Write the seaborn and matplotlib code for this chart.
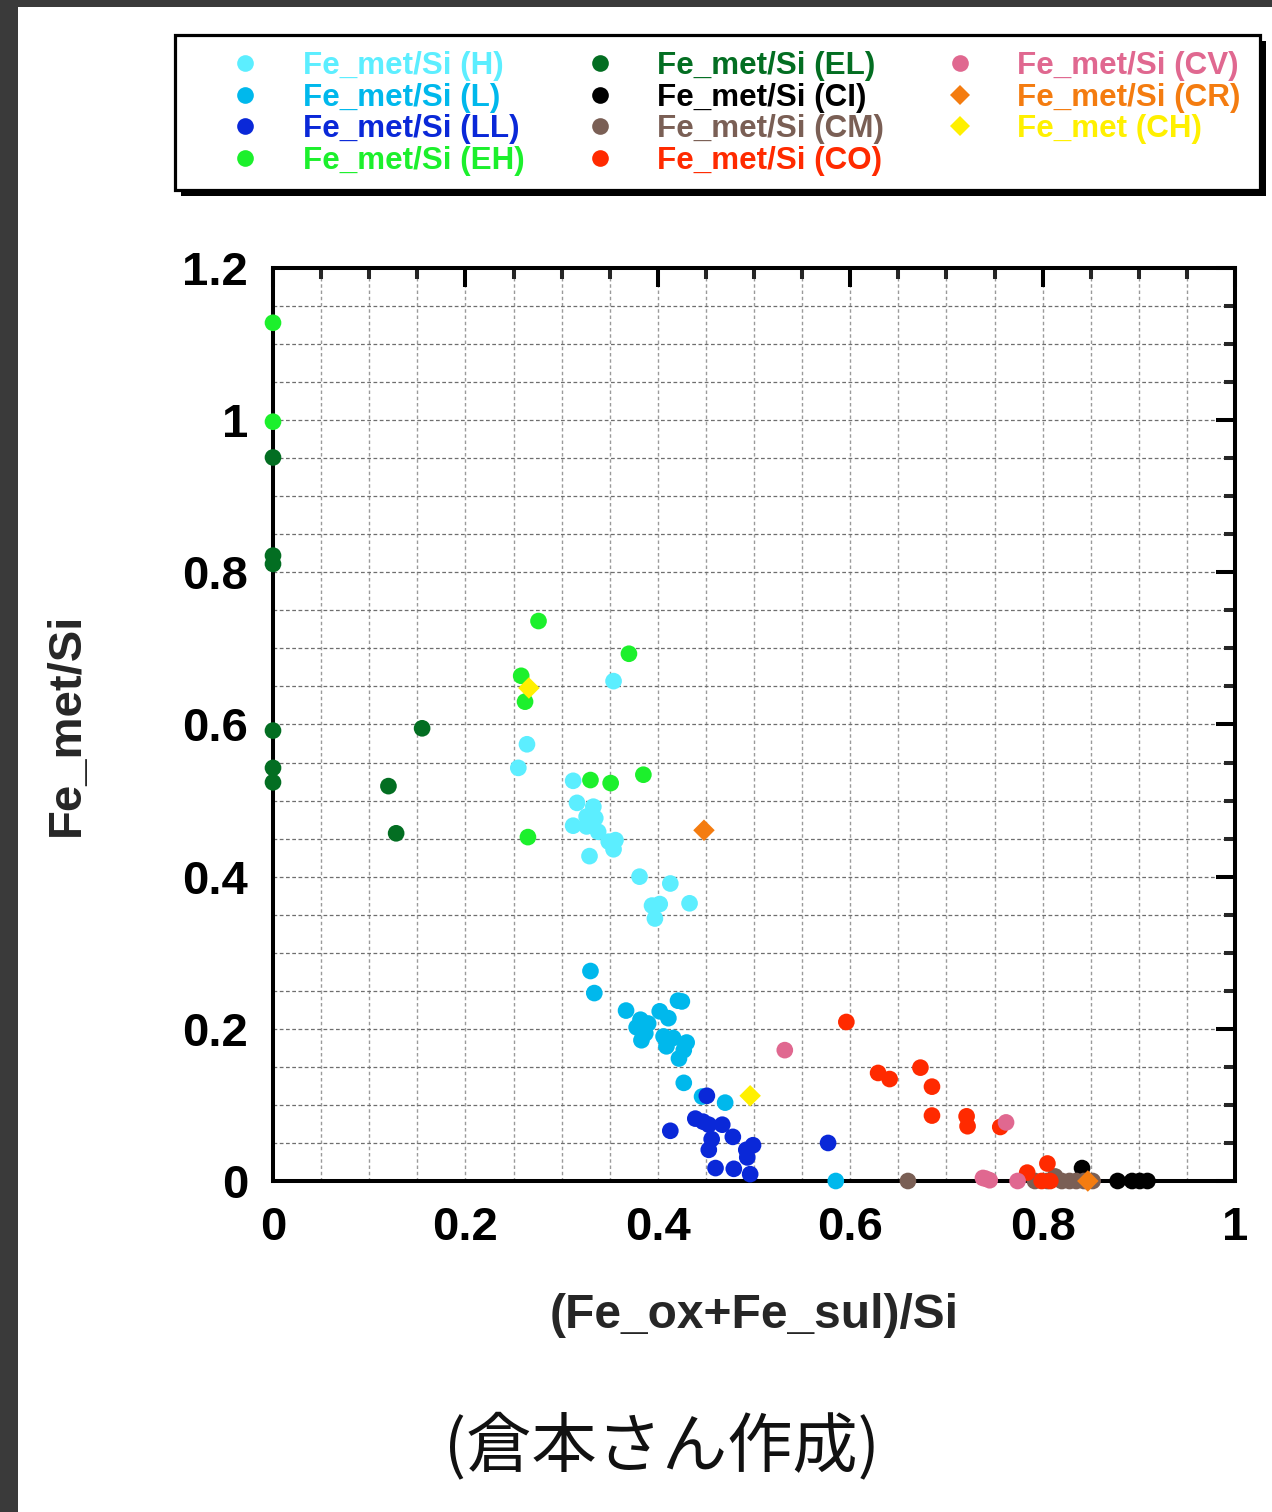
import numpy as np
import pandas as pd
import matplotlib
matplotlib.use("Agg")
import matplotlib.pyplot as plt
import seaborn as sns
from matplotlib.lines import Line2D
from matplotlib.patches import Rectangle
from matplotlib.ticker import MultipleLocator, FuncFormatter

# ---------------- data ----------------
groups = ["H", "L", "LL", "EH", "EL", "CI", "CM", "CO", "CV", "CR", "CH"]
labels = ["Fe_met/Si (H)", "Fe_met/Si (L)", "Fe_met/Si (LL)", "Fe_met/Si (EH)",
          "Fe_met/Si (EL)", "Fe_met/Si (CI)", "Fe_met/Si (CM)", "Fe_met/Si (CO)",
          "Fe_met/Si (CV)", "Fe_met/Si (CR)", "Fe_met (CH)"]
colors = ["#5CEEFF", "#00B8EC", "#0A28D8", "#1CF02C", "#036E22", "#000000",
          "#7A5F55", "#FF2A00", "#E06890", "#F47C10", "#FFF000"]
markers = ["o", "o", "o", "o", "o", "o", "o", "o", "o", "D", "D"]

h_x = [0.354, 0.264, 0.255, 0.312, 0.316, 0.333, 0.326, 0.335, 0.312, 0.326, 0.338,
       0.349, 0.356, 0.354, 0.329, 0.381, 0.413, 0.394, 0.402, 0.397, 0.433]
h_y = [0.657, 0.574, 0.543, 0.526, 0.497, 0.492, 0.479, 0.477, 0.467, 0.466, 0.459,
       0.446, 0.448, 0.436, 0.427, 0.400, 0.391, 0.362, 0.364, 0.345, 0.365]

l_x = [0.330, 0.334, 0.367, 0.382, 0.390, 0.378, 0.402, 0.411, 0.421, 0.425, 0.383,
       0.387, 0.406, 0.416, 0.409, 0.430, 0.427, 0.422, 0.427, 0.446, 0.470, 0.585]
l_y = [0.276, 0.247, 0.224, 0.212, 0.207, 0.202, 0.223, 0.214, 0.237, 0.236, 0.185,
       0.194, 0.190, 0.188, 0.177, 0.182, 0.172, 0.161, 0.129, 0.111, 0.103, 0.0]

ll_x = [0.451, 0.439, 0.447, 0.453, 0.467, 0.413, 0.478, 0.456, 0.453, 0.499, 0.492,
        0.493, 0.460, 0.479, 0.496, 0.577]
ll_y = [0.112, 0.082, 0.078, 0.074, 0.074, 0.066, 0.058, 0.055, 0.041, 0.047, 0.041,
        0.031, 0.017, 0.016, 0.009, 0.050]

eh_x = [0.0, 0.0, 0.276, 0.370, 0.258, 0.262, 0.330, 0.351, 0.385, 0.265]
eh_y = [1.128, 0.998, 0.736, 0.693, 0.664, 0.630, 0.527, 0.523, 0.534, 0.452]

el_x = [0.0, 0.0, 0.0, 0.0, 0.0, 0.0, 0.155, 0.120, 0.128]
el_y = [0.951, 0.822, 0.811, 0.592, 0.543, 0.524, 0.595, 0.519, 0.457]

ci_x = [0.841, 0.878, 0.893, 0.901, 0.909]
ci_y = [0.017, 0.0, 0.0, 0.0, 0.0]

cm_x = [0.660, 0.792, 0.805, 0.813, 0.820, 0.828, 0.835, 0.843, 0.852]
cm_y = [0.0, 0.0, 0.0, 0.006, 0.0, 0.0, 0.0, 0.0, 0.0]

co_x = [0.596, 0.629, 0.641, 0.673, 0.685, 0.685, 0.721, 0.722, 0.756, 0.805, 0.784,
        0.799, 0.808]
co_y = [0.209, 0.142, 0.134, 0.149, 0.124, 0.086, 0.085, 0.072, 0.071, 0.023, 0.011,
        0.0, 0.0]

cv_x = [0.532, 0.762, 0.738, 0.741, 0.745, 0.774]
cv_y = [0.172, 0.077, 0.004, 0.003, 0.001, 0.0]

cr_x = [0.448, 0.847]
cr_y = [0.461, 0.0]

ch_x = [0.266, 0.496]
ch_y = [0.648, 0.112]

xs = [h_x, l_x, ll_x, eh_x, el_x, ci_x, cm_x, co_x, cv_x, cr_x, ch_x]
ys = [h_y, l_y, ll_y, eh_y, el_y, ci_y, cm_y, co_y, cv_y, cr_y, ch_y]

rows = []
for g, m, gx, gy in zip(groups, markers, xs, ys):
    for a, b in zip(gx, gy):
        rows.append((g, m, a, b))
df = pd.DataFrame(rows, columns=["group", "marker", "x", "y"])
pal = dict(zip(groups, colors))

# ---------------- style ----------------
sns.set_style("white")
plt.rcParams["font.family"] = ["Liberation Sans", "DejaVu Sans"]
plt.rcParams["font.weight"] = "bold"

W, H = 1272, 1512
fig = plt.figure(figsize=(W / 100, H / 100), dpi=100)
fig.patch.set_facecolor("white")

ax = fig.add_axes([273 / W, 1 - 1181 / H, 962 / W, 913 / H])

circ = df[df["marker"] == "o"]
dia = df[df["marker"] == "D"]
sns.scatterplot(data=circ, x="x", y="y", hue="group",
                palette={g: pal[g] for g in circ["group"].unique()},
                marker="o", s=144, linewidth=0, legend=False, ax=ax,
                clip_on=False, zorder=5)
sns.scatterplot(data=dia, x="x", y="y", hue="group",
                palette={g: pal[g] for g in dia["group"].unique()},
                marker="D", s=120, linewidth=0, legend=False, ax=ax,
                clip_on=False, zorder=6)

ax.set_xlim(0, 1)
ax.set_ylim(0, 1.2)
ax.xaxis.set_major_locator(MultipleLocator(0.2))
ax.xaxis.set_minor_locator(MultipleLocator(0.05))
ax.yaxis.set_major_locator(MultipleLocator(0.2))
ax.yaxis.set_minor_locator(MultipleLocator(0.05))
fmt = FuncFormatter(lambda v, p: f"{v:g}")
ax.xaxis.set_major_formatter(fmt)
ax.yaxis.set_major_formatter(fmt)

ax.set_axisbelow(True)
ax.xaxis.grid(True, which="both", color="#9a9a9a", linestyle=(0, (2.5, 2)), linewidth=1.0)
ax.yaxis.grid(True, which="both", color="#6e6e6e", linestyle=(0, (3, 2)), linewidth=0.9)

for sp in ax.spines.values():
    sp.set_visible(True)
    sp.set_linewidth(2.9)
    sp.set_color("black")

ax.tick_params(which="major", direction="in", length=14, width=2.9,
               top=True, right=True, labelsize=34, pad=18, colors="black")
ax.tick_params(which="minor", direction="in", length=8, width=2.9,
               top=True, right=True)

ax.set_xlabel("(Fe_ox+Fe_sul)/Si", fontsize=34.5, fontweight="bold", labelpad=31)
ax.set_ylabel("Fe_met/Si", fontsize=34, fontweight="bold", labelpad=67)

# ---------------- legend ----------------
handles = []
for c, m in zip(colors, markers):
    ms = 12 if m == "o" else 10
    handles.append(Line2D([], [], ls="", marker=m, markersize=ms,
                          markerfacecolor=c, markeredgewidth=0))
leg = fig.legend(handles, labels, ncol=3, loc="upper left",
                 bbox_to_anchor=(229.7 / W, 1 - 51 / H), bbox_transform=fig.transFigure,
                 frameon=False, borderpad=0, borderaxespad=0, handlelength=1.0,
                 handletextpad=1.33, columnspacing=1.9, labelspacing=0.05,
                 prop={"weight": "bold", "size": 22.6})
for t, c in zip(leg.get_texts(), colors):
    t.set_color(c)

# legend frame with shadow
bx0, by0 = 175 / W, 1 - 190 / H
bw, bh = 1085 / W, 155.5 / H
fig.add_artist(Rectangle((bx0 + 6 / W, by0 - 6 / H), bw, bh, transform=fig.transFigure,
                         facecolor="black", edgecolor="none", zorder=1))
fig.add_artist(Rectangle((bx0, by0), bw, bh, transform=fig.transFigure,
                         facecolor="white", edgecolor="black", linewidth=2.3, zorder=1.1))

# dark photo border strips
fig.add_artist(Rectangle((0, 0), 18 / W, 1, transform=fig.transFigure,
                         facecolor="#3a3a3a", edgecolor="none", zorder=0.5))
fig.add_artist(Rectangle((0, 1 - 7 / H), 1, 7 / H, transform=fig.transFigure,
                         facecolor="#3a3a3a", edgecolor="none", zorder=0.5))

# caption
fig.text(0.52, 0.0425, "(倉本さん作成)", ha="center", va="center", fontsize=47,
         family=["Noto Sans CJK JP", "DejaVu Sans"], weight="normal", color="#111111")

fig.savefig("out.png", dpi=100)
